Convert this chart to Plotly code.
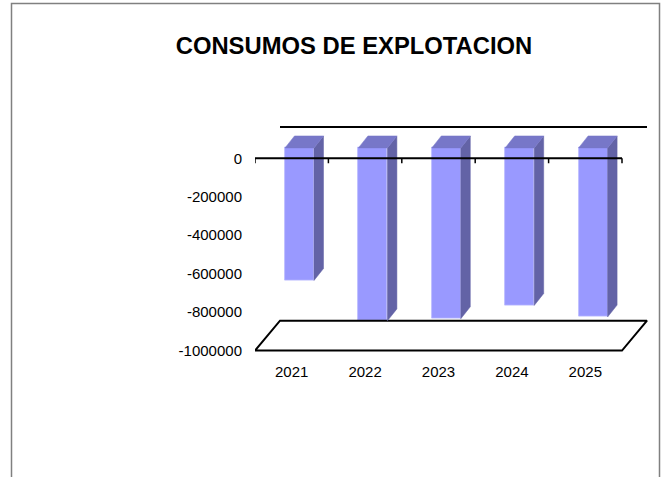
import plotly.graph_objects as go

# ---- data ----
categories = ["2021", "2022", "2023", "2024", "2025"]
values = [-690000, -900000, -889000, -820000, -880000]
y_tick_values = [0, -200000, -400000, -600000, -800000, -1000000]
y_tick_labels = ["0", "-200000", "-400000", "-600000", "-800000", "-1000000"]
title_text = "CONSUMOS DE EXPLOTACION"

# ---- geometry (pixel-based layout) ----
W, H = 664, 477
PX_PER_CAT = 73.4          # px per category slot
PX_PER_VAL = 193e-6        # px per value unit
Y0_PX = 159                # px of value 0
PLOT_L, PLOT_R = 255, 652
PLOT_T, PLOT_B = 115, 358

x_range = [-0.5, -0.5 + (PLOT_R - PLOT_L) / PX_PER_CAT]
y_range = [-(PLOT_B - Y0_PX) / PX_PER_VAL, (Y0_PX - PLOT_T) / PX_PER_VAL]

# depth of the floor / back wall
DX = 25 / PX_PER_CAT
DY = 30 / PX_PER_VAL
# bar front plane offset and bar depth
FX = 7.8 / PX_PER_CAT
FY = 10.5 / PX_PER_VAL
BW = 29 / PX_PER_CAT
BDX = 9.5 / PX_PER_CAT
BDY = 12 / PX_PER_VAL
TICK = 5 / PX_PER_VAL

FRONT = "#9999FF"
TOP = "#7777C8"
SIDE = "#6363A6"

n = len(categories)
xs = list(range(n))
ymin = y_tick_values[-1]

fig = go.Figure()

# floor
fx_ = [-0.5, n - 0.5, n - 0.5 + DX, -0.5 + DX, -0.5]
fy_ = [ymin, ymin, ymin + DY, ymin + DY, ymin]
fig.add_trace(go.Scatter(x=fx_, y=fy_, mode="lines", fill="toself",
                         fillcolor="white", line=dict(color="black", width=2),
                         hoverinfo="skip"))

# back wall top line
fig.add_trace(go.Scatter(x=[-0.5 + DX, n - 0.5 + DX], y=[DY + 1.5 / PX_PER_VAL] * 2,
                         mode="lines", line=dict(color="black", width=2),
                         hoverinfo="skip"))

# bars: front faces
fig.add_trace(go.Bar(x=[x + FX for x in xs], y=values, base=[FY] * n,
                     width=BW, marker=dict(color=FRONT,
                                           line=dict(color="#B8B8FF", width=0.8)),
                     hoverinfo="skip"))

# bars: side and top faces
for x, v in zip(xs, values):
    xl = x + FX - BW / 2
    xr = x + FX + BW / 2
    fig.add_trace(go.Scatter(
        x=[xr, xr + BDX, xr + BDX, xr, xr],
        y=[FY, FY + BDY, FY + v + BDY, FY + v, FY],
        mode="lines", fill="toself", fillcolor=SIDE,
        line=dict(color=SIDE, width=0.5), hoverinfo="skip"))
    fig.add_trace(go.Scatter(
        x=[xl, xr, xr + BDX, xl + BDX, xl],
        y=[FY, FY, FY + BDY, FY + BDY, FY],
        mode="lines", fill="toself", fillcolor=TOP,
        line=dict(color=TOP, width=0.5), hoverinfo="skip"))

# front category axis at value 0 with tick marks
fig.add_trace(go.Scatter(x=[-0.5, n - 0.5], y=[0, 0], mode="lines",
                         line=dict(color="black", width=2), hoverinfo="skip"))
tx, ty = [], []
for k in range(n + 1):
    tx += [k - 0.5, k - 0.5, None]
    ty += [0, -TICK, None]
fig.add_trace(go.Scatter(x=tx, y=ty, mode="lines",
                         line=dict(color="black", width=1.5), hoverinfo="skip"))

fig.update_layout(
    width=W, height=H,
    margin=dict(l=0, r=0, t=0, b=0),
    paper_bgcolor="white", plot_bgcolor="rgba(0,0,0,0)",
    showlegend=False,
    font=dict(family="Liberation Sans, Arial, sans-serif", color="black", size=15),
    title=dict(text="<b>" + title_text + "</b>", x=354 / W, xanchor="center",
               y=1 - 46 / H, yanchor="middle",
               font=dict(size=23.8, family="Liberation Sans, Arial, sans-serif")),
    xaxis=dict(domain=[PLOT_L / W, PLOT_R / W], range=x_range,
               showgrid=False, zeroline=False, showline=False,
               tickmode="array", tickvals=xs, ticktext=categories,
               ticks="", ticklabelstandoff=5, fixedrange=True),
    yaxis=dict(domain=[1 - PLOT_B / H, 1 - PLOT_T / H], range=y_range,
               showgrid=False, zeroline=False, showline=False,
               tickmode="array", tickvals=y_tick_values, ticktext=y_tick_labels,
               ticks="", ticklabelstandoff=12, fixedrange=True),
    shapes=[dict(type="rect", xref="paper", yref="paper",
                 x0=11.5 / W, x1=659.5 / W, y0=-0.05, y1=1 - 3.5 / H,
                 line=dict(color="#808080", width=1.5), fillcolor="rgba(0,0,0,0)",
                 layer="below")],
    bargap=0,
)

fig.write_html("out.html", config={"displayModeBar": False},
               post_script="document.body.style.margin='0';document.body.style.overflow='hidden';")
